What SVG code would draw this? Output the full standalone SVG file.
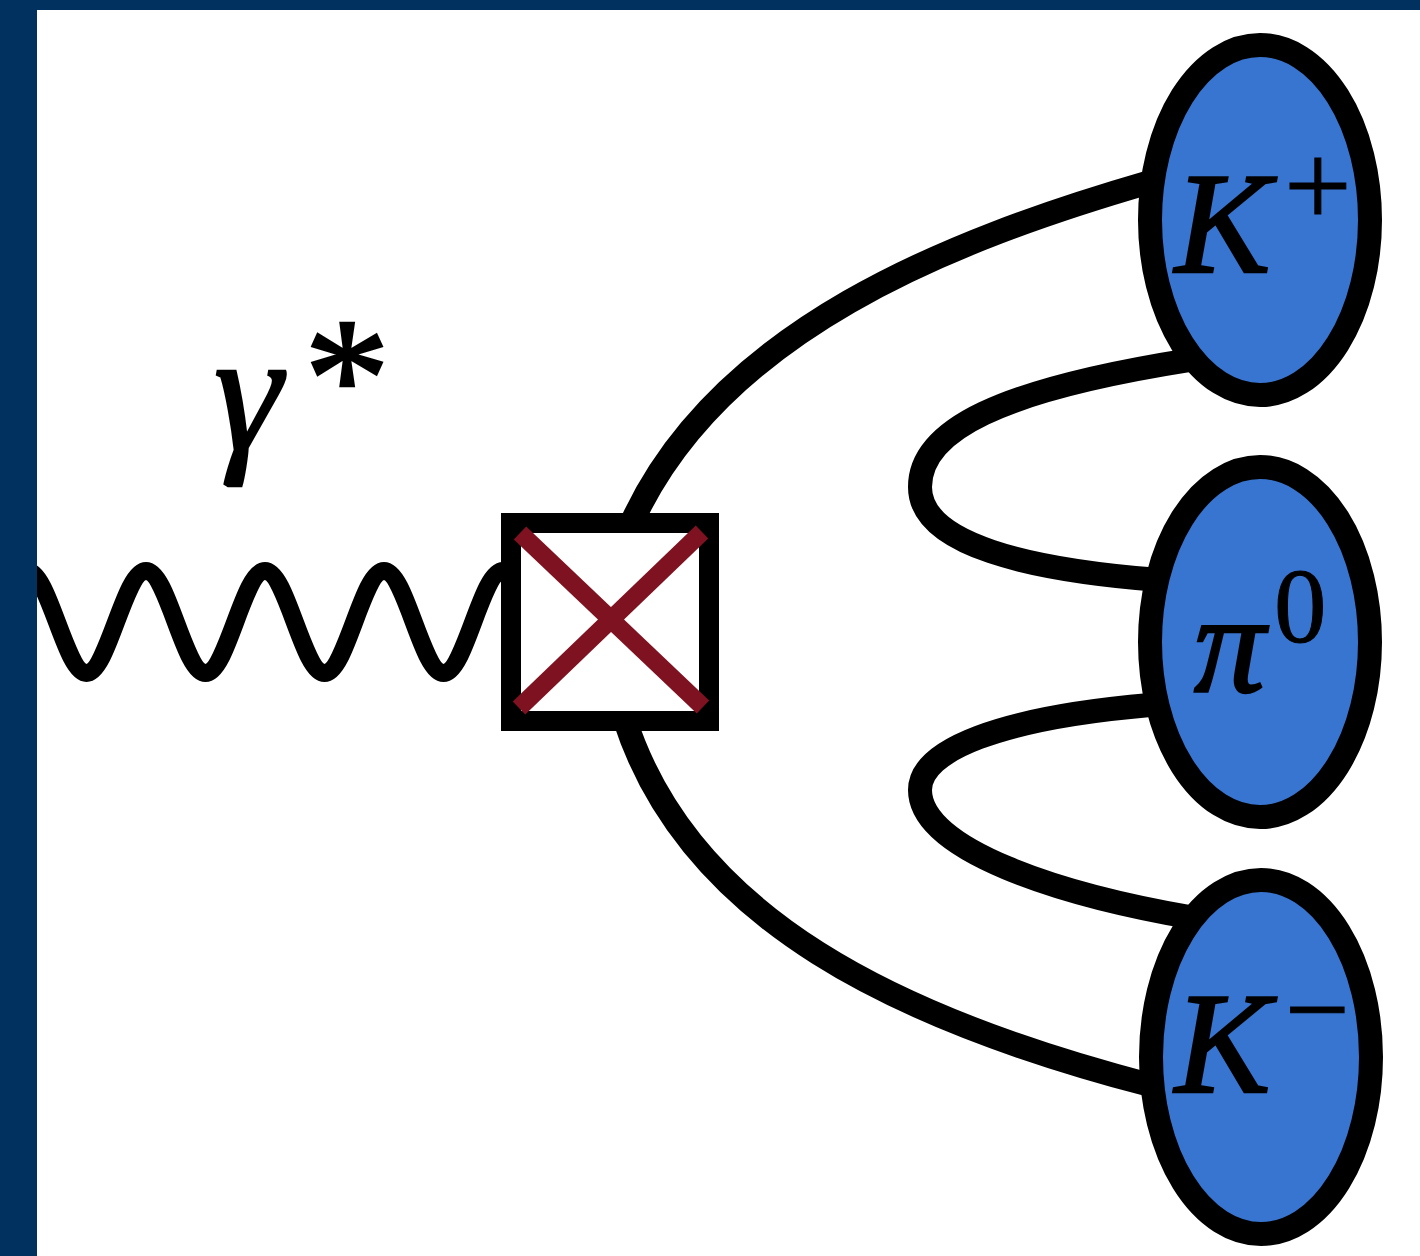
<svg xmlns="http://www.w3.org/2000/svg" width="1420" height="1256" viewBox="0 0 1420 1256">
  <style>
    .line { fill: none; stroke: #000; stroke-width: 24; }
    .wave { fill: none; stroke: #000; stroke-width: 18; }
    .meson { fill: #3875d1; stroke: #000; stroke-width: 24; }
    .vertex { fill: #fff; stroke: #000; stroke-width: 20; }
    .cross { stroke: #7f1220; stroke-width: 18; stroke-linecap: butt; }
    .lbl { font-family: "Liberation Serif", "DejaVu Serif", serif; fill: #000; stroke: #000; stroke-width: 2.5; }
    .it { font-style: italic; }
  </style>

  <rect x="0" y="0" width="1420" height="1256" fill="#fff"/>

  <!-- connectors: photon wave and quark lines -->
  <g id="connectors">
    <path id="photon" class="wave" d="M27 571 C48.6 571 65.4 673 86.5 673 S124.4 571 146 571 S183.9 673 205.5 673 S243.4 571 265 571 S302.9 673 324.5 673 S362.4 571 384 571 S421.9 673 443.5 673 S481.4 571 503 571"/>
    <path id="q-upper" class="line" d="M632 522 C720 330 950 240 1150 182"/>
    <path id="q-lower" class="line" d="M625 720 C690 920 900 1020 1150 1085"/>
    <path id="loop-upper" class="line" d="M1190 360 C1000 390 920 430 920 487 C920 545 1030 570 1160 580"/>
    <path id="loop-lower" class="line" d="M1150 705 C1000 718 920 750 920 790 C920 850 1060 895 1195 918"/>
  </g>

  <!-- photon label -->
  <g id="label-gamma">
    <text class="lbl it" x="214" y="449" font-size="172" stroke-width="4">γ</text>
    <text class="lbl" x="304" y="436" font-size="172">*</text>
  </g>

  <!-- production vertex -->
  <g id="vertex">
    <rect class="vertex" x="511" y="523" width="198" height="198"/>
    <line class="cross" x1="520" y1="533" x2="703" y2="707"/>
    <line class="cross" x1="702" y1="532" x2="519" y2="708"/>
  </g>

  <!-- final-state mesons -->
  <g id="kplus">
    <ellipse class="meson" cx="1260" cy="220" rx="110" ry="175"/>
    <text class="lbl" y="272" font-size="143"><tspan class="it" x="1175">K</tspan><tspan x="1284" y="226" font-size="120" stroke-width="1">+</tspan></text>
  </g>
  <g id="pi0">
    <ellipse class="meson" cx="1260" cy="642" rx="110" ry="175"/>
    <text class="lbl" y="692" font-size="142"><tspan class="it" x="1194">π</tspan><tspan x="1274" y="642" font-size="105" stroke-width="1">0</tspan></text>
  </g>
  <g id="kminus">
    <ellipse class="meson" cx="1261" cy="1057" rx="110" ry="177"/>
    <text class="lbl" y="1092" font-size="143"><tspan class="it" x="1175">K</tspan><tspan x="1285" y="1048" font-size="115" stroke-width="1">−</tspan></text>
  </g>

  <!-- frame -->
  <rect x="0" y="0" width="1420" height="10" fill="#00315f"/>
  <rect x="0" y="0" width="37" height="1256" fill="#00315f"/>
</svg>
